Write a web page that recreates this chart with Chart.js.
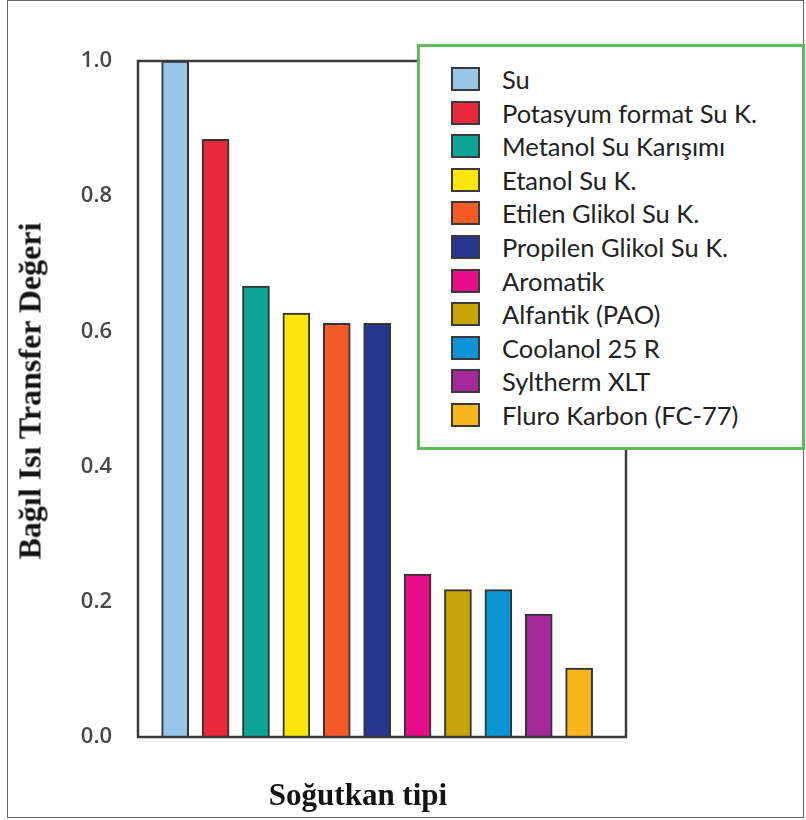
<!DOCTYPE html>
<html>
<head>
<meta charset="utf-8">
<script src="https://cdn.jsdelivr.net/npm/chart.js@4.4.1/dist/chart.umd.min.js"></script>
<style>
  html, body { margin: 0; padding: 0; background: #fff; }
  #wrap { position: relative; width: 806px; height: 820px; overflow: hidden; }
  #frame { position: absolute; left: 7px; top: 0px; width: 797px; height: 818px; border: 1px solid #666; box-sizing: border-box; }
  #chart { position: absolute; left: 0; top: 0; }
  .axis-title { position: absolute; font-family: "Liberation Serif", "Times New Roman", serif; font-weight: bold; color: #141414; white-space: nowrap; }
  #ytitle { left: 30px; top: 391px; font-size: 32px; transform: translate(-50%, -50%) rotate(-90deg); }
  #xtitle { left: 358px; top: 795px; font-size: 31px; transform: translate(-50%, -50%); }
  #legend { position: absolute; left: 417px; top: 44px; width: 388px; height: 406px; box-sizing: border-box;
            border: 3px solid #5cbb52; background: #fff; }
  .item { position: absolute; left: 31px; height: 34px; display: flex; align-items: center;
          font-family: Lato, "Open Sans", sans-serif; font-size: 25.5px; color: #222; white-space: nowrap; }
  .sw { width: 25px; height: 20px; border: 2px solid #3a3a3a; margin-right: 22px; box-sizing: content-box; }
</style>
</head>
<body>
<div id="wrap">
  <div id="frame"></div>
  <canvas id="chart" width="806" height="820"></canvas>
  <div id="ytitle" class="axis-title">Bağıl Isı Transfer Değeri</div>
  <div id="xtitle" class="axis-title">Soğutkan tipi</div>
  <div id="legend"></div>
</div>
<script>
// Coolant types, in the order the bars are drawn
const coolants = [
  'Su',
  'Potasyum format Su K.',
  'Metanol Su Karışımı',
  'Etanol Su K.',
  'Etilen Glikol Su K.',
  'Propilen Glikol Su K.',
  'Aromatik',
  'Alfantik (PAO)',
  'Coolanol 25 R',
  'Syltherm XLT',
  'Fluro Karbon (FC-77)'
];

// Relative heat transfer value of each coolant
const heatTransfer = [1.0, 0.884, 0.667, 0.627, 0.612, 0.612, 0.241, 0.218, 0.218, 0.182, 0.102];

// Fill colour of each bar / legend swatch
const barColors = [
  '#97c6e8', '#e8283b', '#0ea596', '#f8e60c', '#f65a26', '#27358f',
  '#e70d8a', '#c8a40b', '#0c93d6', '#a3299b', '#f8b61c'
];

// Value axis tick labels
const yTickLabels = ['0.0', '0.2', '0.4', '0.6', '0.8', '1.0'];

// Box drawn around the plotting area
const plotFrame = {
  id: 'plotFrame',
  afterDatasetsDraw(chart) {
    const { ctx, chartArea: a } = chart;
    ctx.save();
    ctx.strokeStyle = '#3b3b3b';
    ctx.lineWidth = 2.5;
    ctx.strokeRect(a.left, a.top, a.right - a.left, a.bottom - a.top);
    ctx.restore();
  }
};

new Chart(document.getElementById('chart'), {
  type: 'bar',
  data: {
    labels: coolants,
    datasets: [{
      data: heatTransfer.map((v, i) => ({ x: i, y: v })),
      backgroundColor: barColors,
      borderColor: '#333',
      borderWidth: 2,
      barThickness: 27
    }]
  },
  options: {
    responsive: false,
    animation: false,
    layout: { padding: { top: 61, bottom: 83, right: 180, left: 0 } },
    plugins: { legend: { display: false }, tooltip: { enabled: false } },
    scales: {
      x: {
        type: 'linear',
        offset: false,
        min: -0.92,
        max: 11.16,
        display: false
      },
      y: {
        min: 0,
        max: 1,
        afterFit(scale) { scale.width = 138; },
        grid: { display: false, drawTicks: false },
        border: { display: false },
        ticks: {
          stepSize: 0.2,
          padding: 26,
          color: '#474747',
          font: { family: '"Open Sans", sans-serif', size: 22, weight: '600' },
          callback: (v) => yTickLabels[Math.round(v * 5)]
        }
      }
    }
  },
  plugins: [plotFrame]
});

// Legend: one row per coolant
const legend = document.getElementById('legend');
coolants.forEach((name, i) => {
  const row = document.createElement('div');
  row.className = 'item';
  row.style.top = (15 + i * 33.6) + 'px';
  const sw = document.createElement('span');
  sw.className = 'sw';
  sw.style.background = barColors[i];
  const label = document.createElement('span');
  label.textContent = name;
  row.appendChild(sw);
  row.appendChild(label);
  legend.appendChild(row);
});
</script>
</body>
</html>
